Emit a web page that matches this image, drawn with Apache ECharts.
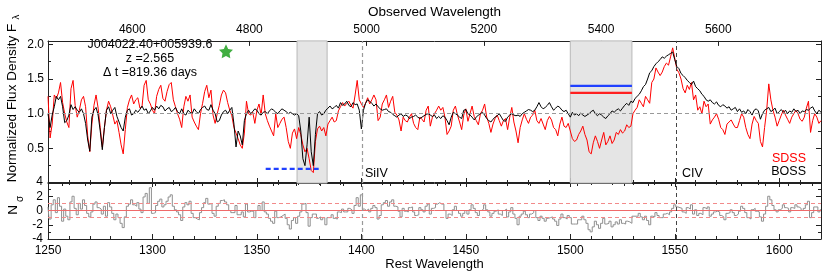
<!DOCTYPE html>
<html><head><meta charset="utf-8">
<script src="https://cdn.jsdelivr.net/npm/echarts@6/dist/echarts.min.js"></script>
<style>html,body{margin:0;padding:0;background:#fff}#c{width:830px;height:278px}</style>
</head><body><div id="c"></div>
<script>
// Rest wavelength grid starts at 1250 Å, one sample per Å (1250..1620)
const restStart = 1250;
const sdssFlux = [
1.25,0.65,0.85,1.27,1.22,1.30,1.45,1.16,1.00,0.88,
0.80,1.36,1.48,1.12,0.95,1.05,1.20,1.25,1.10,0.68,
0.45,0.85,1.12,1.27,1.08,0.80,0.52,0.80,1.05,1.18,
1.10,0.98,0.85,0.90,0.73,0.55,0.42,0.77,1.09,1.20,
1.27,1.14,1.20,1.23,1.08,1.10,1.41,1.48,1.20,1.14,
1.05,1.00,1.25,1.35,1.41,1.22,1.18,1.32,1.42,1.45,
1.20,1.10,1.00,0.92,0.80,1.10,1.25,1.18,1.27,0.95,
0.88,0.82,0.77,1.00,1.15,1.32,1.41,1.23,1.34,0.98,
0.86,1.00,1.12,1.27,1.34,1.30,1.16,1.05,0.97,0.80,
0.72,0.64,0.55,0.50,0.72,1.18,1.00,0.98,1.02,0.86,
1.05,1.14,0.98,1.27,1.00,0.90,0.82,0.75,0.68,1.00,
0.80,0.86,0.92,0.95,0.80,0.60,0.50,0.72,0.78,0.64,
0.80,0.70,0.55,0.45,0.50,0.35,0.18,0.15,0.60,0.78,
0.82,0.75,0.80,0.68,0.85,0.90,0.95,0.88,0.90,1.04,
1.10,1.16,1.11,1.15,1.18,1.12,1.08,1.27,1.48,1.20,
1.14,1.09,1.15,1.23,1.14,1.20,1.27,1.20,0.90,0.95,
1.14,1.20,1.27,1.09,1.18,1.25,1.02,0.98,0.91,0.75,
0.95,0.90,0.88,0.95,1.00,0.86,0.80,0.77,0.95,0.92,
0.88,1.05,1.11,0.82,0.95,1.00,1.05,1.11,1.05,1.09,
0.95,0.70,0.75,0.82,1.05,1.11,0.98,0.88,0.77,0.98,
1.07,0.89,1.00,1.11,0.96,0.90,0.84,1.00,1.05,1.14,
0.95,0.86,0.73,0.85,0.93,0.98,0.90,0.82,0.90,0.93,
0.77,0.95,1.09,0.88,0.75,0.58,0.80,0.91,1.00,0.92,
0.86,0.95,0.98,1.05,0.90,0.86,0.93,0.85,0.77,0.90,
0.96,0.91,0.80,0.77,0.68,0.85,0.95,0.82,0.80,0.86,
0.75,0.64,0.60,0.62,0.70,0.75,0.82,0.70,0.62,0.45,
0.42,0.58,0.68,0.60,0.50,0.62,0.73,0.55,0.60,0.68,
0.57,0.62,0.73,0.70,0.77,0.72,0.75,0.84,0.80,0.82,
1.00,1.05,1.09,1.20,1.15,1.10,1.25,1.20,1.15,1.45,
1.50,1.66,1.60,1.55,1.60,1.68,1.73,1.70,1.82,1.95,
1.80,1.64,1.59,1.50,1.36,1.30,1.41,1.35,1.45,1.20,
1.27,1.05,1.10,1.00,1.18,1.10,1.14,0.85,0.91,0.95,
1.00,0.92,0.80,0.77,0.70,0.85,0.88,0.91,0.85,0.80,
0.80,0.90,1.00,0.95,0.80,0.70,0.64,0.85,0.96,0.90,
0.86,0.60,0.52,0.80,1.05,1.43,1.20,1.05,0.95,0.82,
0.90,0.98,1.05,0.98,0.92,0.86,0.95,1.00,1.05,1.00,
0.92,0.89,0.95,1.08,1.18,0.73,0.90,1.00,0.95,0.86,
0.90];
const bossFlux = [
1.00,0.80,0.98,1.10,1.25,1.20,1.25,1.10,0.87,0.90,
0.98,1.13,1.06,1.10,1.05,1.02,1.07,1.00,0.86,0.62,
0.46,0.95,1.05,1.09,0.98,0.75,0.48,0.80,1.05,1.10,
1.00,1.05,1.09,0.96,0.88,0.80,0.75,0.95,1.05,1.07,
0.98,1.00,1.05,1.02,1.06,1.11,1.05,1.07,1.00,1.04,
1.09,1.05,1.11,1.07,1.12,1.10,1.04,1.07,1.09,1.03,
1.05,1.09,1.03,1.00,1.07,1.00,0.98,1.05,1.02,1.00,
1.07,1.03,1.00,1.06,1.09,1.11,1.06,1.05,1.13,1.05,
1.00,0.88,0.90,0.98,1.03,1.05,1.00,1.05,1.09,0.85,
0.52,0.75,0.68,0.55,0.90,1.00,1.05,1.00,1.03,1.07,
1.05,1.00,0.98,1.02,1.03,1.00,1.04,1.07,1.05,1.02,
1.00,1.04,1.07,1.05,1.03,1.00,1.02,1.00,0.98,1.00,
0.97,0.75,0.35,0.25,0.55,0.95,0.45,0.25,0.70,1.00,
1.03,0.98,1.00,1.05,1.08,1.11,1.07,1.09,1.12,1.08,
1.16,1.12,1.14,1.18,1.12,1.10,1.16,1.13,1.14,1.05,
0.78,1.05,1.15,1.20,1.18,1.15,1.11,1.14,1.10,1.07,
1.05,1.06,1.07,1.03,1.02,0.99,0.97,0.95,0.98,1.00,
0.96,0.98,0.97,0.93,0.95,0.96,0.98,0.95,0.93,0.95,
0.97,0.99,1.00,0.98,0.96,0.98,0.93,0.96,0.93,0.97,
0.95,0.90,0.84,0.95,1.02,1.00,0.98,0.95,0.93,1.05,
1.06,1.00,0.98,0.95,0.91,0.95,0.98,1.00,1.02,0.98,
0.93,0.90,0.88,0.92,0.95,0.97,1.00,0.95,0.90,0.89,
0.95,0.98,1.00,0.98,0.97,0.98,0.96,1.00,1.02,1.04,
1.06,1.05,1.03,1.05,1.10,1.16,1.10,1.07,1.09,1.12,
1.16,1.10,1.05,1.08,1.11,1.09,1.05,1.03,1.05,1.00,
0.95,1.02,0.98,1.00,0.97,1.01,0.98,0.96,0.98,1.00,
1.03,1.05,1.00,0.97,1.00,0.98,0.95,0.93,0.97,1.00,
1.04,1.02,1.05,1.07,1.04,1.08,1.12,1.15,1.12,1.18,
1.16,1.22,1.25,1.28,1.33,1.39,1.42,1.50,1.59,1.62,
1.68,1.72,1.75,1.78,1.82,1.80,1.83,1.85,1.87,1.89,
1.78,1.68,1.65,1.58,1.55,1.52,1.48,1.45,1.42,1.47,
1.39,1.36,1.33,1.28,1.25,1.20,1.18,1.20,1.16,1.14,
1.17,1.12,1.10,1.13,1.11,1.08,1.10,1.05,1.07,1.09,
1.03,1.07,1.02,1.04,1.00,1.06,1.03,0.98,1.05,1.07,
1.04,0.92,1.00,1.05,1.07,1.09,1.03,1.05,1.08,1.00,
1.03,1.06,1.02,1.05,1.00,1.04,1.02,1.07,1.03,1.05,
1.00,1.04,1.03,1.06,1.05,1.08,1.10,1.04,1.00,1.05,
1.02];
const nSigma = [
0.5,-1.2,0.8,1.5,-0.3,1.8,0.6,-1.5,0.2,-0.8,
-1.3,1.2,2.0,0.3,-0.6,1.0,0.2,1.5,0.7,-0.4,
-0.9,-0.2,0.9,1.2,0.4,0.2,-0.5,0.6,-0.8,1.1,
0.5,-0.4,-1.3,-0.5,-1.0,-1.8,-2.4,-0.9,0.6,0.9,
1.5,0.8,0.6,1.1,0.2,-0.3,1.9,2.4,1.0,3.2,
-0.4,-0.3,0.7,1.3,1.6,0.5,0.8,1.3,1.9,2.2,
0.6,0.1,-0.2,-0.6,-1.4,0.5,1.1,0.8,1.3,-0.4,
-1.0,-1.2,-1.3,-0.3,0.4,1.1,1.7,0.9,1.0,-0.4,
-0.8,0.6,1.0,1.4,1.5,1.2,0.8,0.0,-0.3,-0.3,
0.7,-0.6,-0.6,-0.2,-0.9,0.9,-0.2,-0.1,-0.1,-1.0,
0.0,0.7,0.0,1.2,-0.2,-0.5,-1.1,-1.5,-1.8,-0.1,
-1.0,-0.9,-0.7,-0.5,-1.1,-2.0,-2.6,-1.4,-1.0,-1.8,
-0.8,-0.2,0.9,1.0,-0.3,-2.2,-1.0,-0.5,-0.5,-1.1,
-0.9,-1.3,-1.0,-2.0,-1.0,-1.0,-0.6,-1.1,-1.2,-0.2,
-0.3,0.2,-0.2,-0.2,0.3,0.1,-0.4,0.7,1.8,0.6,
2.2,0.2,0.0,0.2,-0.2,0.3,0.7,0.4,-1.2,-0.7,
0.8,1.1,1.4,0.6,1.2,1.5,0.6,0.5,-0.1,-0.9,
0.3,-0.1,-0.2,0.4,0.5,-0.2,-0.7,-0.6,0.4,0.1,
-0.2,0.6,0.9,-0.5,0.3,0.4,0.9,1.1,0.9,0.9,
0.0,-1.1,-0.5,-0.7,0.1,0.6,0.0,-0.4,-0.8,-0.4,
0.0,-0.5,0.1,0.8,0.3,-0.3,-0.7,0.0,0.2,0.8,
0.1,-0.2,-0.8,-0.4,-0.1,0.1,-0.5,-0.7,0.0,0.2,
-0.9,-0.2,0.4,-0.5,-1.1,-2.0,-0.8,-0.5,-0.1,-0.6,
-1.0,-0.5,-0.3,0.0,-1.0,-1.4,-0.8,-1.1,-1.5,-1.1,
-1.0,-0.9,-1.2,-1.5,-2.1,-1.2,-0.5,-1.0,-1.2,-0.7,
-1.0,-1.9,-1.9,-1.9,-1.3,-1.3,-0.8,-1.3,-1.8,-2.7,
-3.0,-2.3,-1.5,-2.0,-2.5,-1.8,-1.1,-1.9,-1.8,-1.5,
-2.3,-2.0,-1.6,-1.9,-1.3,-1.8,-1.9,-1.5,-1.6,-1.8,
-0.8,-0.8,-0.8,-0.4,-0.9,-1.3,-0.8,-1.4,-2.0,-0.8,
-0.9,-0.3,-0.7,-1.0,-1.0,-0.5,-0.4,-0.6,-0.2,0.3,
0.8,0.5,0.4,0.3,-0.2,-0.4,0.4,0.2,0.8,-0.5,
0.1,-0.7,-0.4,-0.6,0.4,0.2,0.5,-0.8,-0.5,-0.2,
-0.1,-0.2,-0.7,-0.9,-1.3,-0.4,-0.3,0.1,-0.3,-0.7,
-0.5,-0.1,0.6,0.3,-0.3,-1.0,-1.2,0.1,0.3,-0.1,
-0.2,-0.9,-1.5,-0.5,0.6,2.0,1.5,0.7,0.1,-0.2,
0.1,0.3,0.8,0.4,0.3,-0.2,0.4,0.3,0.8,0.5,
0.3,0.0,0.3,0.8,1.3,-1.0,-0.3,0.5,0.5,-0.2,
0.1];
const redshift = 2.565;
const restRange = [1250, 1620];
const observedTicks = [4600, 4800, 5000, 5200, 5400, 5600];
const observedMinorTicks = [4480,4520,4560,4640,4680,4720,4760,4840,4880,4920,4960,5040,5080,5120,5160,5240,5280,5320,5360,5440,5480,5520,5560,5640,5680,5720,5760];
const balRegions = [[1369.2, 1383.6], [1500, 1529.5]];
const siivRest = 1400.5;
const civRest = 1550.5;
const bossLevel = [[1500, 1.40], [1529.5, 1.40]];
const sdssLevel = [[1500, 1.30], [1529.5, 1.30]];
const troughMark = [[1354.2, 0.205], [1380.2, 0.205]];
const starPoint = [[1335.2, 1.90]];

const FONT = "'Liberation Sans', Arial, Helvetica, sans-serif";
const pairs = arr => arr.map((v, i) => [restStart + i, v]);
const plain = v => String(v);

const chart = echarts.init(document.getElementById('c'), null, {renderer: 'canvas'});
const axisLine = {show: true, onZero: false, lineStyle: {color: '#222', width: 1}};
const lbl = {color: '#000', fontFamily: FONT, fontSize: 12};

function restAxis(grid, pos, showLabel) {
  return {
    type: 'value', gridIndex: grid, position: pos, min: restRange[0], max: restRange[1], interval: 50,
    axisLine: axisLine, splitLine: {show: false},
    axisTick: {show: true, inside: true, length: 5, lineStyle: {color: '#222'}},
    minorTick: {show: true, splitNumber: 5, length: 3, lineStyle: {color: '#222'}},
    axisLabel: Object.assign({show: showLabel, margin: 6, showMaxLabel: false, formatter: plain}, lbl)
  };
}

const option = {
  animation: false,
  backgroundColor: '#fff',
  grid: [
    {left: 48, right: 9, top: 33, height: 150},
    {left: 48, right: 9, top: 182, height: 57}
  ],
  xAxis: [
    restAxis(0, 'bottom', false),
    {
      type: 'value', gridIndex: 0, position: 'top', min: restRange[0] * (1 + redshift), max: restRange[1] * (1 + redshift),
      axisLine: axisLine, splitLine: {show: false},
      axisTick: {show: true, inside: true, length: 5, customValues: observedTicks, lineStyle: {color: '#222'}},
      axisLabel: Object.assign({show: true, margin: 5, customValues: observedTicks, formatter: plain}, lbl),
      name: 'Observed Wavelength', nameLocation: 'middle', nameGap: 21,
      nameTextStyle: {fontFamily: FONT, fontSize: 13.5, color: '#000'}
    },
    {
      type: 'value', gridIndex: 0, position: 'top', min: restRange[0] * (1 + redshift), max: restRange[1] * (1 + redshift),
      axisLine: {show: false}, splitLine: {show: false},
      axisTick: {show: true, inside: true, length: 3, customValues: observedMinorTicks, lineStyle: {color: '#222'}},
      axisLabel: {show: false}
    },
    Object.assign(restAxis(1, 'bottom', true), {
      name: 'Rest Wavelength', nameLocation: 'middle', nameGap: 17,
      nameTextStyle: {fontFamily: FONT, fontSize: 13, color: '#000'}
    }),
    restAxis(1, 'top', false)
  ],
  yAxis: [
    {
      type: 'value', gridIndex: 0, position: 'left', min: 0, max: 2.05, interval: 0.5,
      axisLine: axisLine, splitLine: {show: false},
      axisTick: {show: true, inside: true, length: 5, lineStyle: {color: '#222'}},
      minorTick: {show: true, splitNumber: 2, length: 3, lineStyle: {color: '#222'}},
      axisLabel: Object.assign({margin: 4, showMaxLabel: false, formatter: v => v === 0 ? '' : v.toFixed(1)}, lbl)
    },
    {
      type: 'value', gridIndex: 0, position: 'right', min: 0, max: 2.05, interval: 0.5,
      axisLine: axisLine, splitLine: {show: false},
      axisTick: {show: true, inside: true, length: 5, lineStyle: {color: '#222'}},
      minorTick: {show: true, splitNumber: 2, length: 3, lineStyle: {color: '#222'}},
      axisLabel: {show: false}
    },
    {
      type: 'value', gridIndex: 1, position: 'left', min: -4, max: 4, interval: 2,
      axisLine: axisLine, splitLine: {show: false},
      axisTick: {show: true, inside: true, length: 5, lineStyle: {color: '#222'}},
      minorTick: {show: true, splitNumber: 2, length: 3, lineStyle: {color: '#222'}},
      axisLabel: Object.assign({margin: 5}, lbl)
    },
    {
      type: 'value', gridIndex: 1, position: 'right', min: -4, max: 4, interval: 2,
      axisLine: axisLine, splitLine: {show: false},
      axisTick: {show: true, inside: true, length: 5, lineStyle: {color: '#222'}},
      minorTick: {show: true, splitNumber: 2, length: 3, lineStyle: {color: '#222'}},
      axisLabel: {show: false}
    }
  ],
  series: [
    {
      type: 'line', xAxisIndex: 0, yAxisIndex: 0, data: [], z: 1, silent: true,
      markArea: {
        silent: true,
        itemStyle: {color: '#e5e5e5', borderColor: '#b8b8b8', borderWidth: 1},
        data: balRegions.map(r => [{xAxis: r[0]}, {xAxis: r[1]}])
      }
    },
    {
      type: 'line', xAxisIndex: 0, yAxisIndex: 0, data: [], z: 2, silent: true,
      markLine: {
        silent: true, symbol: ['none', 'none'], label: {show: false},
        data: [
          {yAxis: 1, lineStyle: {color: '#999', type: [4, 3], width: 1}},
          {xAxis: siivRest, lineStyle: {color: '#999', type: [4, 3], width: 1.2}},
          {xAxis: civRest, lineStyle: {color: '#444', type: [4, 3], width: 1}}
        ]
      }
    },
    {
      name: 'SDSS', type: 'line', xAxisIndex: 0, yAxisIndex: 0, data: pairs(sdssFlux), z: 3,
      symbol: 'none', lineStyle: {color: '#ff0000', width: 1}
    },
    {
      name: 'BOSS', type: 'line', xAxisIndex: 0, yAxisIndex: 0, data: pairs(bossFlux), z: 4,
      symbol: 'none', lineStyle: {color: '#000', width: 1}
    },
    {
      type: 'line', xAxisIndex: 0, yAxisIndex: 0, data: bossLevel, z: 5, symbol: 'none',
      lineStyle: {color: '#2040ff', width: 2.2}
    },
    {
      type: 'line', xAxisIndex: 0, yAxisIndex: 0, data: sdssLevel, z: 5, symbol: 'none',
      lineStyle: {color: '#ff2020', width: 2.2}
    },
    {
      type: 'line', xAxisIndex: 0, yAxisIndex: 0, data: troughMark, z: 5, symbol: 'none',
      lineStyle: {color: '#2040ff', width: 2.2, type: [5, 3]}
    },
    {
      type: 'scatter', xAxisIndex: 0, yAxisIndex: 0, data: starPoint, z: 6,
      symbol: 'path://M0,-10 L2.94,-4.05 9.51,-3.09 4.76,1.55 5.88,8.09 0,5 -5.88,8.09 -4.76,1.55 -9.51,-3.09 -2.94,-4.05 Z',
      symbolSize: 14, itemStyle: {color: '#129a12'}
    },
    {
      type: 'line', xAxisIndex: 3, yAxisIndex: 2, data: pairs(nSigma), z: 3, step: 'middle',
      symbol: 'none', lineStyle: {color: '#8f8f8f', width: 1}
    },
    {
      type: 'line', xAxisIndex: 3, yAxisIndex: 2, data: [], z: 4, silent: true,
      markLine: {
        silent: true, symbol: ['none', 'none'], label: {show: false},
        data: [
          {yAxis: 0, lineStyle: {color: '#f06a6a', type: 'solid', width: 1}},
          {yAxis: 1, lineStyle: {color: '#f28a8a', type: [4, 3], width: 1}},
          {yAxis: -1, lineStyle: {color: '#f28a8a', type: [4, 3], width: 1}},
          {xAxis: siivRest, lineStyle: {color: '#999', type: [4, 3], width: 1.2}},
          {xAxis: civRest, lineStyle: {color: '#444', type: [4, 3], width: 1}}
        ]
      }
    }
  ],
  graphic: [
    {type: 'text', x: 150, y: 45, style: {text: 'J004022.40+005939.6', font: '12.5px ' + FONT, fill: '#000', textAlign: 'center', textVerticalAlign: 'middle'}},
    {type: 'text', x: 150, y: 59, style: {text: 'z =2.565', font: '12.5px ' + FONT, fill: '#000', textAlign: 'center', textVerticalAlign: 'middle'}},
    {type: 'text', x: 150, y: 73, style: {text: 'Δ t =819.36 days', font: '12.5px ' + FONT, fill: '#000', textAlign: 'center', textVerticalAlign: 'middle'}},
    {type: 'text', x: 806, y: 159, style: {text: 'SDSS', font: '12.5px ' + FONT, fill: '#ff0000', textAlign: 'right', textVerticalAlign: 'middle'}},
    {type: 'text', x: 806, y: 172, style: {text: 'BOSS', font: '12.5px ' + FONT, fill: '#000', textAlign: 'right', textVerticalAlign: 'middle'}},
    {type: 'text', x: 365, y: 174, style: {text: 'SiIV', font: '12.5px ' + FONT, fill: '#000', textAlign: 'left', textVerticalAlign: 'middle'}},
    {type: 'text', x: 682, y: 174, style: {text: 'CIV', font: '12.5px ' + FONT, fill: '#000', textAlign: 'left', textVerticalAlign: 'middle'}},
    {type: 'text', x: 12, y: 103, rotation: Math.PI / 2, style: {text: 'Normalized Flux Density F', font: '13.5px ' + FONT, fill: '#000', textAlign: 'center', textVerticalAlign: 'middle'}},
    {type: 'text', x: 16, y: 17, rotation: Math.PI / 2, style: {text: 'λ', font: '9.5px ' + FONT, fill: '#000', textAlign: 'center', textVerticalAlign: 'middle'}},
    {type: 'text', x: 13, y: 210, rotation: Math.PI / 2, style: {text: 'N', font: '13.5px ' + FONT, fill: '#000', textAlign: 'center', textVerticalAlign: 'middle'}},
    {type: 'text', x: 20, y: 199, rotation: Math.PI / 2, style: {text: 'σ', font: '10px ' + FONT, fill: '#000', textAlign: 'center', textVerticalAlign: 'middle'}}
  ]
};
chart.setOption(option);
</script>
</body></html>
